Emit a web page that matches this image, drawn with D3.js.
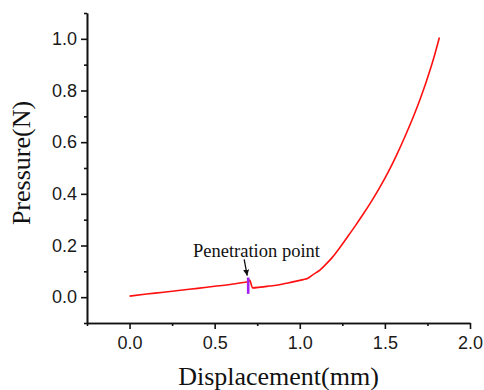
<!DOCTYPE html>
<meta charset="utf-8">
<script src="https://d3js.org/d3.v7.min.js"></script>
<style>
  body { margin: 0; background: #fff; }
  .tick text { font-family: "Liberation Sans", Arial, sans-serif; font-size: 18px; fill: #1a1a1a; }
  .axis path, .axis line { stroke: #111; }
</style>
<svg></svg>
<script>

// DATA

var displacement = [0.00, 0.10, 0.20, 0.30, 0.40, 0.50, 0.58, 0.62, 0.68, 0.700, 0.705, 0.723,
                    0.77, 0.82, 0.88, 0.93, 0.98, 1.02, 1.045, 1.08, 1.12, 1.15, 1.19, 1.24, 1.28,
                    1.33, 1.37, 1.42, 1.47, 1.52, 1.57, 1.62, 1.67, 1.71, 1.745, 1.78, 1.82];
var pressure     = [0.004, 0.012, 0.019, 0.027, 0.034, 0.042, 0.048, 0.052, 0.058, 0.060, 0.066, 0.036,
                    0.039, 0.043, 0.048, 0.055, 0.062, 0.068, 0.072, 0.088, 0.106, 0.125, 0.153, 0.196, 0.233,
                    0.280, 0.319, 0.370, 0.425, 0.485, 0.552, 0.625, 0.703, 0.772, 0.838, 0.910, 1.005];

var xMajor = [0.0, 0.5, 1.0, 1.5, 2.0];
var xMinor = [-0.25, 0.25, 0.75, 1.25, 1.75];
var yMajor = [0.0, 0.2, 0.4, 0.6, 0.8, 1.0];
var yMinor = [-0.1, 0.1, 0.3, 0.5, 0.7, 0.9, 1.1];

var penetrationX = 0.697;
var penetrationRange = [0.013, 0.076];
var annotation = "Penetration point";

// GLOBALS

var width = 484;
var height = 390;

var margin = {
  top: 13,
  left: 87,
  right: 14,
  bottom: 67
};

var svg = d3.select("svg")
    .attr("width", width)
    .attr("height", height);

svg.append("rect")
    .attr("width", width)
    .attr("height", height)
    .attr("fill", "#fff");

// SCALES

var xScale = d3.scaleLinear()
    .domain([-0.25, 2.0])
    .range([margin.left, width - margin.right]);

var yScale = d3.scaleLinear()
    .domain([-0.1, 1.1])
    .range([height - margin.bottom, margin.top]);

// AXES

var fmt = d3.format(".1f");

svg.append("g")
    .attr("class", "axis")
    .attr("transform", `translate(0, ${height - margin.bottom})`)
    .call(d3.axisBottom(xScale).tickValues(xMinor).tickSize(3).tickSizeOuter(0).tickFormat(""));

var xAxis = svg.append("g")
    .attr("class", "axis")
    .attr("transform", `translate(0, ${height - margin.bottom})`)
    .call(d3.axisBottom(xScale).tickValues(xMajor).tickSize(6).tickSizeOuter(0).tickPadding(7).tickFormat(fmt));

svg.append("g")
    .attr("class", "axis")
    .attr("transform", `translate(${margin.left}, 0)`)
    .call(d3.axisLeft(yScale).tickValues(yMinor).tickSize(3).tickSizeOuter(0).tickFormat(""));

var yAxis = svg.append("g")
    .attr("class", "axis")
    .attr("transform", `translate(${margin.left}, 0)`)
    .call(d3.axisLeft(yScale).tickValues(yMajor).tickSize(6).tickSizeOuter(0).tickPadding(4).tickFormat(fmt));

svg.selectAll(".axis path, .axis line")
    .attr("stroke-width", 1.6);

// CURVE

var line = d3.line()
    .x(function(d, i) { return xScale(displacement[i]); })
    .y(function(d, i) { return yScale(pressure[i]); })
    .curve(d3.curveMonotoneX);

svg.append("path")
    .datum(displacement)
    .attr("fill", "none")
    .attr("stroke", "#ff1010")
    .attr("stroke-width", 1.6)
    .attr("stroke-linejoin", "round")
    .attr("d", line);

// PENETRATION MARKER

svg.append("line")
    .attr("x1", xScale(penetrationX))
    .attr("x2", xScale(penetrationX))
    .attr("y1", yScale(penetrationRange[0]))
    .attr("y2", yScale(penetrationRange[1]))
    .attr("stroke", "#a020f0")
    .attr("stroke-width", 2.6);

svg.append("defs").append("marker")
    .attr("id", "arrow")
    .attr("viewBox", "0 0 10 10")
    .attr("refX", 10)
    .attr("refY", 5)
    .attr("markerWidth", 6)
    .attr("markerHeight", 6)
    .attr("markerUnits", "userSpaceOnUse")
    .attr("orient", "auto")
  .append("path")
    .attr("d", "M0,0 L10,5 L0,10 z")
    .attr("fill", "#111");

svg.append("line")
    .attr("x1", xScale(penetrationX) - 4)
    .attr("y1", yScale(0.146))
    .attr("x2", xScale(penetrationX) - 1)
    .attr("y2", yScale(0.083))
    .attr("stroke", "#111")
    .attr("stroke-width", 1.3)
    .attr("marker-end", "url(#arrow)");

svg.append("text")
    .attr("x", 193)
    .attr("y", 257)
    .style("font-family", "'Liberation Serif', 'Times New Roman', serif")
    .style("font-size", "18.5px")
    .style("fill", "#111")
    .text(annotation);

// TITLES

svg.append("text")
    .attr("x", xScale(0.875))
    .attr("y", 385)
    .attr("text-anchor", "middle")
    .style("font-family", "'Liberation Serif', 'Times New Roman', serif")
    .style("font-size", "26px")
    .style("fill", "#111")
    .text("Displacement(mm)");

svg.append("text")
    .attr("transform", "translate(30, 163) rotate(-90)")
    .attr("text-anchor", "middle")
    .style("font-family", "'Liberation Serif', 'Times New Roman', serif")
    .style("font-size", "26px")
    .style("fill", "#111")
    .text("Pressure(N)");

</script>
